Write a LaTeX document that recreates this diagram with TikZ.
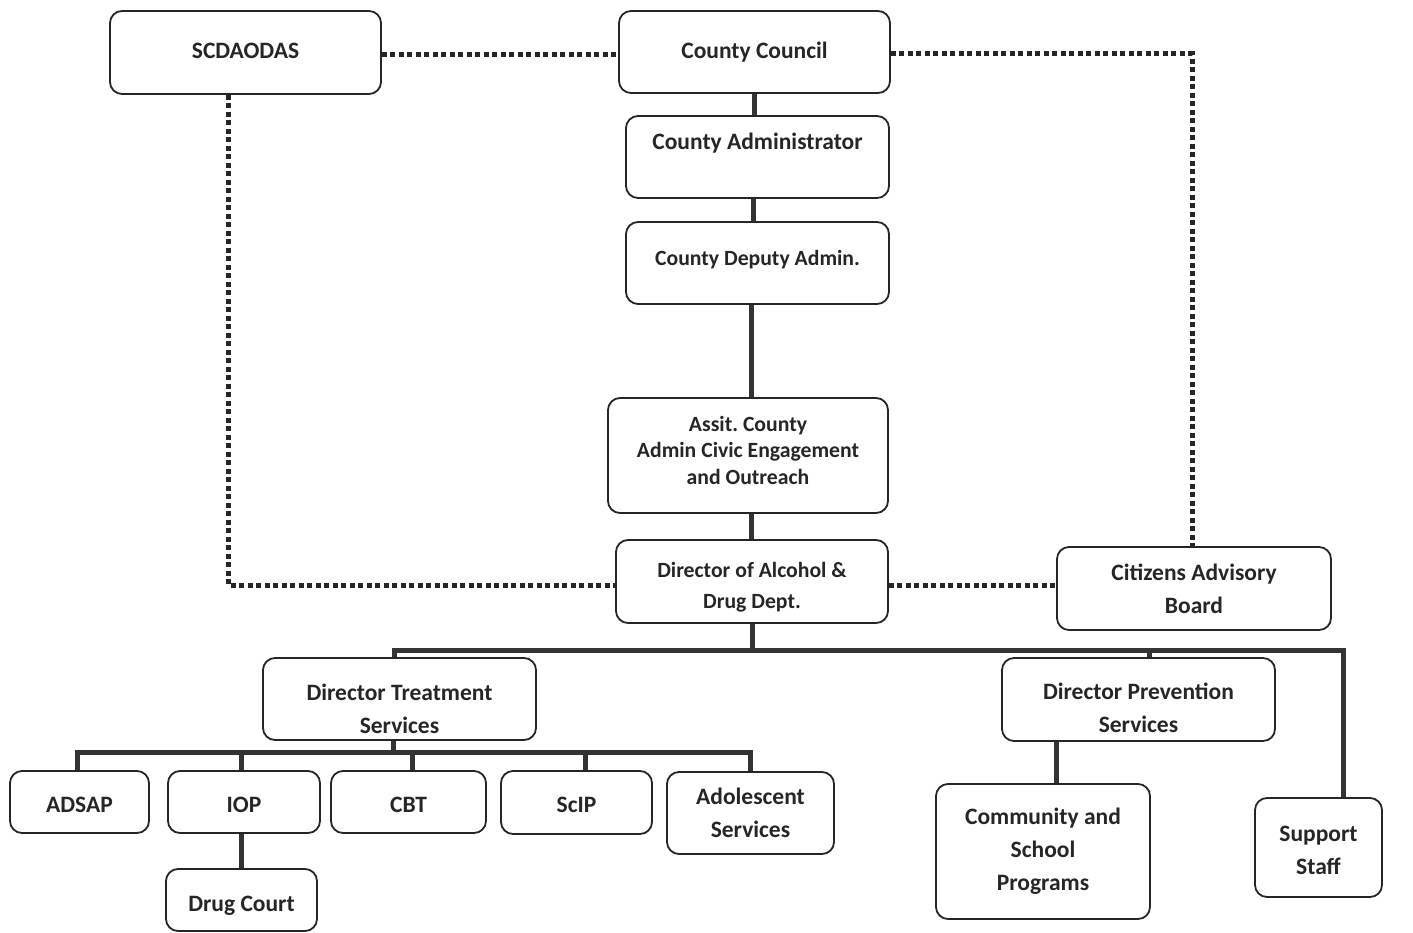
\documentclass[tikz,border=0pt]{standalone}
\usepackage{fontspec}
\setmainfont{Carlito}
\frenchspacing
% set a centred block of lines and move it up (positive) or down (negative)
% without changing the space it takes
\newcommand\movetext[2]{\raisebox{#1}[\height][\depth]{\begin{tabular}{@{}c@{}}#2\end{tabular}}}
\begin{document}
\begin{tikzpicture}[x=1pt,y=-1pt,
  box/.style={draw=black!85, line width=1.8pt, rounded corners=12pt, inner sep=0pt,
    align=center, text=black!85, font=\fontsize{23.5}{33}\selectfont\bfseries},
  small/.style={font=\fontsize{21.7}{31}\selectfont\bfseries},
  link/.style={line width=5pt, draw=black!80},
  dots/.style={line width=5pt, draw=black!85, dash pattern=on 5pt off 3.5pt}]
\useasboundingbox[fill=white] (0,0) rectangle (1413,933);

% top row
\node[box, minimum width=271pt, minimum height=83pt] (scd) at (245.5,52.5) {\movetext{1pt}{SCDAODAS}};
\node[box, minimum width=271pt, minimum height=82pt] (cc) at (754.5,52) {County Council};
% chain of administration
\node[box, minimum width=263pt, minimum height=82pt] (cadm) at (757.5,157) {\movetext{14pt}{County Administrator}};
\node[box, small, minimum width=263pt, minimum height=82pt] (cdep) at (757.5,263) {\movetext{4pt}{County Deputy Admin.}};
\node[box, minimum width=280pt, minimum height=115pt, font=\fontsize{21.7}{26.5}\selectfont\bfseries] (asst) at (748,455.5)
  {\movetext{3pt}{Assit. County\\Admin Civic Engagement\\and Outreach}};
\node[box, small, minimum width=272pt, minimum height=83pt] (dir) at (752,581.5) {\movetext{-5.5pt}{Director of Alcohol \&\\Drug Dept.}};
\node[box, minimum width=274pt, minimum height=83pt] (cab) at (1194,588.5) {Citizens Advisory\\Board};
% directors
\node[box, minimum width=273pt, minimum height=82pt] (trt) at (399.5,699) {\movetext{-11pt}{Director Treatment\\Services}};
\node[box, minimum width=273pt, minimum height=83pt] (prv) at (1138.5,699.5) {\movetext{-10pt}{Director Prevention\\Services}};
% treatment programmes
\node[box, minimum width=139pt, minimum height=62pt] (ads) at (79.5,802) {\movetext{-4pt}{ADSAP}};
\node[box, minimum width=152pt, minimum height=62pt] (iop) at (244,802) {\movetext{-4pt}{IOP}};
\node[box, minimum width=155pt, minimum height=62pt] (cbt) at (408.5,802) {\movetext{-4pt}{CBT}};
\node[box, minimum width=151pt, minimum height=63pt] (scip) at (576.5,802.5) {\movetext{-3pt}{ScIP}};
\node[box, minimum width=167pt, minimum height=82pt] (ado) at (750.5,813) {Adolescent\\Services};
\node[box, minimum width=151pt, minimum height=62pt] (dc) at (241.5,900) {\movetext{-5pt}{Drug Court}};
% prevention side
\node[box, minimum width=214pt, minimum height=135pt] (csp) at (1043,851.5) {Community and\\School\\Programs};
\node[box, minimum width=127pt, minimum height=99pt] (sup) at (1318.5,847.5) {\movetext{-3.5pt}{Support\\Staff}};

% bus levels
\coordinate (mbus) at (0,650);
\coordinate (tbus) at (0,752);

% solid reporting lines
\draw[link] (cc.south) -- (cc.south |- cadm.north);
\draw[link] ([xshift=-4pt]cadm.south) -- ([xshift=-4pt]cadm.south |- cdep.north);
\draw[link] ([xshift=-6pt]cdep.south) -- ([xshift=-6pt]cdep.south |- asst.north);
\draw[link] ([xshift=3pt]asst.south) -- ([xshift=3pt]asst.south |- dir.north);
\draw[link] (dir.south) -- (dir.south |- mbus);
\draw[link] ([xshift=-5pt]trt.north) -- ([xshift=-5pt]trt.north |- mbus)
  -- ([xshift=25pt]sup.north |- mbus) -- ([xshift=25pt]sup.north);
\draw[link] ([xshift=11pt]prv.north) -- ([xshift=11pt]prv.north |- mbus);
\draw[link] ([xshift=-6pt]trt.south) -- ([xshift=-6pt]trt.south |- tbus);
\draw[link] ([xshift=-2pt]ads.north) -- ([xshift=-2pt]ads.north |- tbus)
  -- (ado.north |- tbus) -- (ado.north);
\draw[link] ([xshift=-3pt]iop.north) -- ([xshift=-3pt]iop.north |- tbus);
\draw[link] ([xshift=4pt]cbt.north) -- ([xshift=4pt]cbt.north |- tbus);
\draw[link] ([xshift=9pt]scip.north) -- ([xshift=9pt]scip.north |- tbus);
\draw[link] ([xshift=-3pt]iop.south) -- ([xshift=-3pt]iop.south |- dc.north);
\draw[link] ([xshift=13pt]csp.north) -- ([xshift=13pt]csp.north |- prv.south);

% dotted advisory lines
\draw[dots] ([yshift=-2pt]scd.east) -- ([yshift=-2pt]scd.east -| cc.west);
\draw[dots] ([yshift=-2pt]cc.east) -| ([xshift=-2pt]cab.north);
\draw[dots] ([xshift=-17pt]scd.south) |- ([yshift=-4pt]dir.west);
\draw[dots] ([yshift=-4pt]dir.east) -- ([yshift=-4pt]dir.east -| cab.west);
\end{tikzpicture}
\end{document}
